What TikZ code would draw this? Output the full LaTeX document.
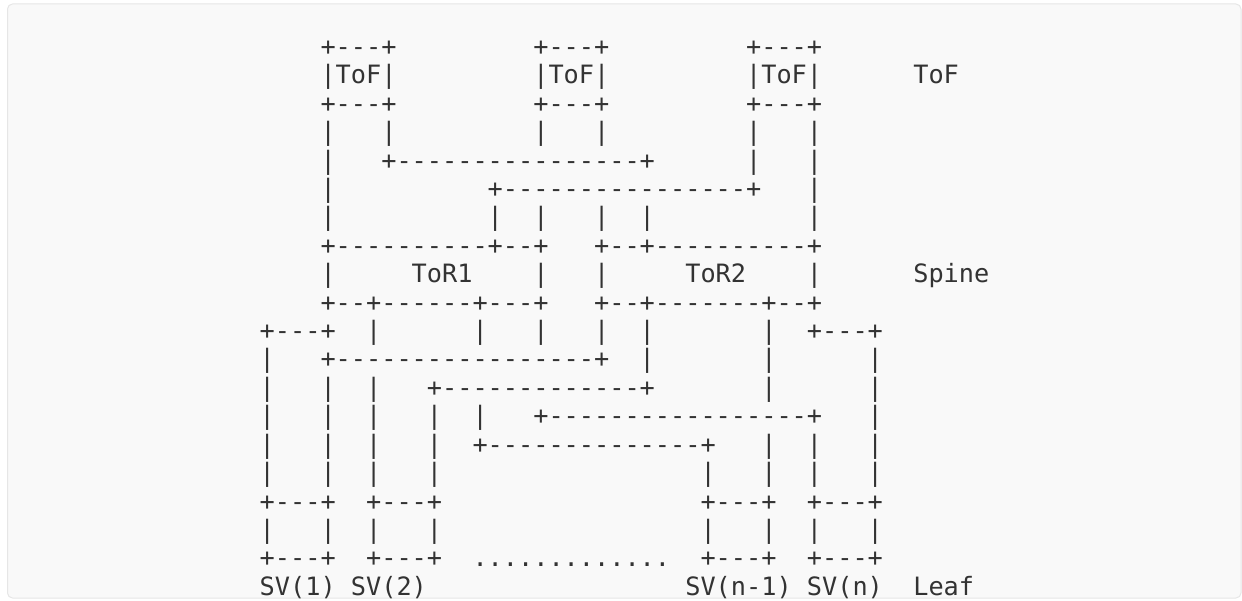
\documentclass[tikz,border=0pt]{standalone}
\usepackage{fontspec}
\setmonofont{DejaVu Sans Mono}

\definecolor{ink}{HTML}{333333}
\definecolor{panel}{HTML}{F9F9F9}
\definecolor{rim}{HTML}{E6E6E6}

\tikzset{
  art/.style={anchor=base west, inner sep=0pt, outer sep=0pt, text=ink,
    font=\fontsize{25.25}{28.4}\selectfont\ttfamily},
}

\begin{document}
\begin{tikzpicture}[x=1pt, y=-1pt]
\useasboundingbox (0,0) rectangle (1242,601);

% panel behind the art
\draw[rim, fill=panel, line width=1pt, rounded corners=5pt] (7.5,4) rectangle (1241,598);

% one column = one character, one row = one text line
\begin{scope}[shift={(259.7,27.2)}, x=15.2pt, y=-28.4pt]

% ToF row
\foreach \c/\t in {4/+---+, 18/+---+, 32/+---+}
  \node[art] (r1-\c) at (\c,1) {\t};
\foreach \c/\t in {4/|ToF|, 18/|ToF|, 32/|ToF|, 43/ToF}
  \node[art] (r2-\c) at (\c,2) {\t};
\foreach \c/\t in {4/+---+, 18/+---+, 32/+---+}
  \node[art] (r3-\c) at (\c,3) {\t};

% ToF to spine links
\foreach \c/\t in {4/|, 8/|, 18/|, 22/|, 32/|, 36/|}
  \node[art] (r4-\c) at (\c,4) {\t};
\foreach \c/\t in {4/|, 8/+----------------+, 32/|, 36/|}
  \node[art] (r5-\c) at (\c,5) {\t};
\foreach \c/\t in {4/|, 15/+----------------+, 36/|}
  \node[art] (r6-\c) at (\c,6) {\t};
\foreach \c/\t in {4/|, 15/|, 18/|, 22/|, 25/|, 36/|}
  \node[art] (r7-\c) at (\c,7) {\t};

% spine row
\foreach \c/\t in {4/+----------+--+, 22/+--+----------+}
  \node[art] (r8-\c) at (\c,8) {\t};
\foreach \c/\t in {4/|, 10/ToR1, 18/|, 22/|, 28/ToR2, 36/|, 43/Spine}
  \node[art] (r9-\c) at (\c,9) {\t};
\foreach \c/\t in {4/+--+------+---+, 22/+--+-------+--+}
  \node[art] (r10-\c) at (\c,10) {\t};

% spine to leaf links
\foreach \c/\t in {0/+---+, 7/|, 14/|, 18/|, 22/|, 25/|, 33/|, 36/+---+}
  \node[art] (r11-\c) at (\c,11) {\t};
\foreach \c/\t in {0/|, 4/+-----------------+, 25/|, 33/|, 40/|}
  \node[art] (r12-\c) at (\c,12) {\t};
\foreach \c/\t in {0/|, 4/|, 7/|, 11/+-------------+, 33/|, 40/|}
  \node[art] (r13-\c) at (\c,13) {\t};
\foreach \c/\t in {0/|, 4/|, 7/|, 11/|, 14/|, 18/+-----------------+, 40/|}
  \node[art] (r14-\c) at (\c,14) {\t};
\foreach \c/\t in {0/|, 4/|, 7/|, 11/|, 14/+--------------+, 33/|, 36/|, 40/|}
  \node[art] (r15-\c) at (\c,15) {\t};
\foreach \c/\t in {0/|, 4/|, 7/|, 11/|, 29/|, 33/|, 36/|, 40/|}
  \node[art] (r16-\c) at (\c,16) {\t};

% leaf row
\foreach \c/\t in {0/+---+, 7/+---+, 29/+---+, 36/+---+}
  \node[art] (r17-\c) at (\c,17) {\t};
\foreach \c/\t in {0/|, 4/|, 7/|, 11/|, 29/|, 33/|, 36/|, 40/|}
  \node[art] (r18-\c) at (\c,18) {\t};
\foreach \c/\t in {0/+---+, 7/+---+, 29/+---+, 36/+---+}
  \node[art] (r19-\c) at (\c,19) {\t};
\node[art] (r19-14) at (14,19) {.............};
\foreach \c/\t in {0/SV(1), 6/SV(2), 28/SV(n-1), 36/SV(n), 43/Leaf}
  \node[art] (r20-\c) at (\c,20) {\t};

\end{scope}

\end{tikzpicture}
\end{document}
